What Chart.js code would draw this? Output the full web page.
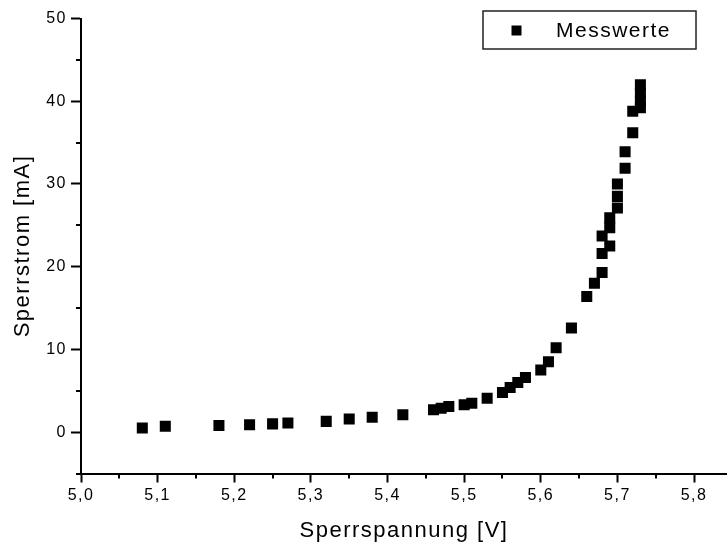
<!DOCTYPE html>
<html>
<head>
<meta charset="utf-8">
<script src="https://cdn.jsdelivr.net/npm/chart.js@4/dist/chart.umd.min.js"></script>
<style>
  html, body { margin: 0; padding: 0; background: #fff; }
  canvas { display: block; }
</style>
</head>
<body>
<canvas id="chart" width="727" height="552"></canvas>
<script>
// Messwerte: Sperrspannung [V] / Sperrstrom [mA]
var voltage = [5.08, 5.11, 5.18, 5.22, 5.25, 5.27, 5.32, 5.35, 5.38, 5.42,
               5.46, 5.47, 5.48, 5.50, 5.51, 5.53, 5.55, 5.56, 5.57, 5.58,
               5.60, 5.61, 5.62, 5.64, 5.66, 5.67, 5.68, 5.68, 5.69, 5.68,
               5.69, 5.69, 5.70, 5.70, 5.70, 5.71, 5.71, 5.72, 5.72, 5.73,
               5.73, 5.73, 5.73];
var current = [0.5, 0.7, 0.8, 0.9, 1.0, 1.1, 1.3, 1.6, 1.8, 2.1,
               2.7, 2.9, 3.1, 3.3, 3.5, 4.1, 4.8, 5.4, 6.0, 6.6,
               7.5, 8.5, 10.2, 12.6, 16.4, 18.0, 19.3, 21.6, 22.5, 23.7,
               24.7, 25.9, 27.1, 28.5, 30.0, 31.9, 33.9, 36.2, 38.8, 39.2,
               40.0, 41.0, 42.0];

var xTicks = [5.0, 5.1, 5.2, 5.3, 5.4, 5.5, 5.6, 5.7, 5.8];
var xMinor = [5.05, 5.15, 5.25, 5.35, 5.45, 5.55, 5.65, 5.75];
var yTicks = [0, 10, 20, 30, 40, 50];
var yMinor = [-5, 5, 15, 25, 35, 45];

var FONT = "'Liberation Sans', Arial, sans-serif";

var points = [];
for (var i = 0; i < voltage.length; i++) {
	points.push({x: voltage[i], y: current[i]});
}

// origin-style text is drawn a bit wider
function spacing(chart) {
	chart.ctx.letterSpacing = '1.5px';
}

var spacingPlugin = {
	id: 'spacing',
	beforeUpdate: spacing,
	beforeLayout: spacing,
	beforeDraw: spacing
};

var minorTicks = {
	id: 'minorTicks',
	afterDraw: function(chart) {
		var ctx = chart.ctx, xs = chart.scales.x, ys = chart.scales.y;
		ctx.save();
		ctx.strokeStyle = '#000';
		ctx.lineWidth = 2;
		ctx.beginPath();
		xMinor.forEach(function(v) {
			var px = Math.round(xs.getPixelForValue(v));
			ctx.moveTo(px, xs.top);
			ctx.lineTo(px, xs.top + 5);
		});
		yMinor.forEach(function(v) {
			var py = Math.round(ys.getPixelForValue(v));
			ctx.moveTo(ys.right, py);
			ctx.lineTo(ys.right - 5, py);
		});
		ctx.stroke();
		ctx.restore();
	}
};

var boxLegend = {
	id: 'boxLegend',
	afterDraw: function(chart) {
		var ctx = chart.ctx;
		var label = chart.data.datasets[0].label;
		ctx.save();
		ctx.letterSpacing = '1.5px';
		ctx.fillStyle = '#fff';
		ctx.strokeStyle = '#222';
		ctx.lineWidth = 1.5;
		ctx.fillRect(483, 11, 213, 38);
		ctx.strokeRect(483, 11, 213, 38);
		ctx.fillStyle = '#000';
		ctx.fillRect(511.5, 25.5, 10, 10);
		ctx.font = '21px ' + FONT;
		ctx.textBaseline = 'middle';
		ctx.textAlign = 'left';
		ctx.fillText(label, 556, 31);
		ctx.restore();
	}
};

new Chart(document.getElementById('chart'), {
	type: 'scatter',
	data: {
		datasets: [{
			label: 'Messwerte',
			data: points,
			pointStyle: 'rect',
			pointRadius: 7.8,
			pointHoverRadius: 7.8,
			backgroundColor: '#000',
			borderColor: '#000',
			borderWidth: 0
		}]
	},
	options: {
		responsive: false,
		animation: false,
		devicePixelRatio: 1,
		layout: {autoPadding: false, padding: {top: 18.5, right: 0, left: 0, bottom: 0}},
		plugins: {
			legend: {display: false},
			tooltip: {enabled: false}
		},
		scales: {
			x: {
				type: 'linear',
				position: 'bottom',
				min: 5.0,
				max: 5.843,
				afterBuildTicks: function(scale) {
					scale.ticks = xTicks.map(function(v) { return {value: v}; });
				},
				afterFit: function(scale) {
					scale.height = 78.5;
					scale.paddingLeft = 0;
					scale.paddingRight = 0;
				},
				border: {color: '#000', width: 2},
				grid: {drawOnChartArea: false, tickLength: 9, tickWidth: 2, tickColor: '#000'},
				ticks: {
					color: '#000',
					padding: 3,
					maxRotation: 0,
					font: {family: FONT, size: 16},
					callback: function(v) { return v.toFixed(1).replace('.', ','); }
				},
				title: {
					display: true,
					text: 'Sperrspannung [V]',
					color: '#000',
					font: {family: FONT, size: 22},
					padding: {top: 0, bottom: 8}
				}
			},
			y: {
				type: 'linear',
				min: -5,
				max: 50,
				afterBuildTicks: function(scale) {
					scale.ticks = yTicks.map(function(v) { return {value: v}; });
				},
				afterFit: function(scale) { scale.width = 81; },
				border: {color: '#000', width: 2},
				grid: {drawOnChartArea: false, tickLength: 10, tickWidth: 2, tickColor: '#000'},
				ticks: {
					color: '#000',
					padding: 4,
					font: {family: FONT, size: 16}
				},
				title: {
					display: true,
					text: 'Sperrstrom [mA]',
					color: '#000',
					font: {family: FONT, size: 22},
					padding: {top: 10, bottom: 0}
				}
			}
		}
	},
	plugins: [spacingPlugin, minorTicks, boxLegend]
});
</script>
</body>
</html>
